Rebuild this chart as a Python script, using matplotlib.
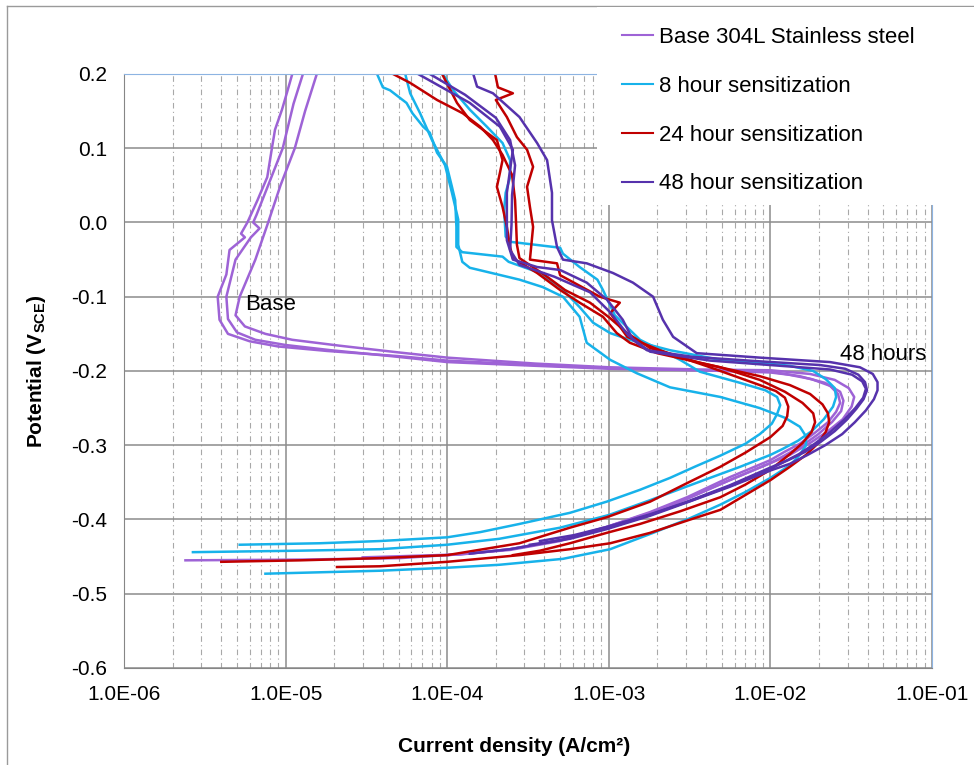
import numpy as np
import matplotlib.pyplot as plt
from matplotlib.ticker import LogLocator, FuncFormatter, NullFormatter
from matplotlib.lines import Line2D
from matplotlib.patches import Rectangle

plt.rcParams['font.family'] = ['Liberation Sans', 'DejaVu Sans']
plt.rcParams['mathtext.fontset'] = 'custom'
plt.rcParams['mathtext.rm'] = 'Liberation Sans'
plt.rcParams['mathtext.bf'] = 'Liberation Sans:bold'

# Polarization scans as (potential V_SCE, current density A/cm2), passive end first
base_1 = [(0.200, 1.10e-5), (0.175, 1.02e-5), (0.152, 9.5e-6), (0.125, 8.6e-6), (0.098, 8.2e-6),
          (0.061, 7.7e-6), (0.030, 6.7e-6), (0.000, 5.8e-6), (-0.015, 5.3e-6), (-0.020, 5.6e-6),
          (-0.037, 4.5e-6), (-0.070, 4.3e-6), (-0.100, 3.8e-6), (-0.131, 3.9e-6), (-0.150, 4.4e-6),
          (-0.160, 6.0e-6), (-0.167, 9.0e-6), (-0.173, 1.8e-5), (-0.180, 5.0e-5), (-0.186, 1.0e-4),
          (-0.192, 3.5e-4), (-0.196, 1.0e-3), (-0.199, 3.66e-3), (-0.202, 1.0e-2), (-0.205, 1.3e-2),
          (-0.211, 1.8e-2), (-0.220, 2.34e-2), (-0.231, 2.62e-2), (-0.243, 2.7e-2), (-0.255, 2.55e-2),
          (-0.269, 2.27e-2), (-0.283, 1.89e-2), (-0.298, 1.52e-2), (-0.309, 1.22e-2), (-0.320, 1.0e-2),
          (-0.343, 5.6e-3), (-0.370, 3.05e-3), (-0.390, 1.8e-3), (-0.410, 9.7e-4), (-0.428, 5.0e-4),
          (-0.440, 2.45e-4), (-0.446, 1.38e-4), (-0.452, 5.1e-5), (-0.454, 1.23e-5), (-0.455, 2.4e-6)]

base_2 = [(0.200, 1.28e-5), (0.160, 1.12e-5), (0.100, 9.6e-6), (0.050, 7.8e-6), (0.010, 6.6e-6),
          (0.000, 6.3e-6), (-0.008, 6.9e-6), (-0.020, 6.1e-6), (-0.050, 4.9e-6), (-0.100, 4.3e-6),
          (-0.130, 4.4e-6), (-0.148, 5.0e-6), (-0.158, 6.5e-6), (-0.165, 1.0e-5), (-0.172, 1.9e-5),
          (-0.180, 4.5e-5), (-0.188, 1.0e-4), (-0.193, 3.5e-4), (-0.197, 1.0e-3), (-0.199, 3.66e-3),
          (-0.201, 1.0e-2), (-0.207, 1.52e-2), (-0.216, 2.18e-2), (-0.228, 2.7e-2), (-0.240, 2.83e-2),
          (-0.254, 2.74e-2), (-0.269, 2.4e-2), (-0.285, 1.98e-2), (-0.301, 1.56e-2), (-0.314, 1.22e-2),
          (-0.324, 1.0e-2), (-0.347, 5.6e-3), (-0.372, 3.05e-3), (-0.392, 1.8e-3), (-0.411, 9.7e-4),
          (-0.429, 5.0e-4), (-0.441, 2.45e-4), (-0.448, 1.0e-4)]

base_3 = [(0.200, 1.56e-5), (0.150, 1.32e-5), (0.100, 1.14e-5), (0.050, 9.3e-6), (0.000, 7.8e-6),
          (-0.050, 6.5e-6), (-0.100, 5.2e-6), (-0.125, 4.9e-6), (-0.140, 5.6e-6), (-0.150, 7.5e-6),
          (-0.158, 1.1e-5), (-0.166, 2.17e-5), (-0.175, 5.0e-5), (-0.182, 1.0e-4), (-0.190, 3.5e-4),
          (-0.195, 1.0e-3), (-0.198, 3.66e-3), (-0.199, 1.0e-2), (-0.204, 1.76e-2), (-0.212, 2.5e-2),
          (-0.223, 3.05e-2), (-0.235, 3.3e-2), (-0.248, 3.18e-2), (-0.265, 2.8e-2), (-0.281, 2.27e-2),
          (-0.297, 1.76e-2), (-0.313, 1.32e-2), (-0.324, 1.0e-2), (-0.347, 5.6e-3), (-0.372, 3.05e-3),
          (-0.391, 1.8e-3), (-0.410, 9.7e-4), (-0.428, 5.0e-4), (-0.440, 2.45e-4), (-0.447, 1.2e-4),
          (-0.451, 3.0e-5)]

h8_1 = [(0.200, 3.68e-5), (0.182, 4.0e-5), (0.178, 4.43e-5), (0.161, 5.6e-5), (0.147, 6.1e-5),
        (0.129, 7.1e-5), (0.121, 7.8e-5), (0.094, 8.65e-5), (0.075, 9.97e-5), (0.048, 1.07e-4),
        (0.030, 1.12e-4), (-0.006, 1.14e-4), (-0.033, 1.14e-4), (-0.040, 1.24e-4), (-0.046, 2.2e-4),
        (-0.053, 2.4e-4), (-0.068, 3.75e-4), (-0.087, 5.0e-4), (-0.114, 6.6e-4), (-0.135, 8.0e-4),
        (-0.149, 1.02e-3), (-0.158, 1.35e-3), (-0.172, 2.39e-3), (-0.185, 4.9e-3), (-0.189, 8.6e-3),
        (-0.193, 1.32e-2), (-0.200, 1.84e-2), (-0.211, 2.2e-2), (-0.223, 2.5e-2), (-0.235, 2.55e-2),
        (-0.248, 2.44e-2), (-0.265, 2.14e-2), (-0.281, 1.8e-2), (-0.294, 1.48e-2), (-0.305, 1.19e-2),
        (-0.313, 1.0e-2), (-0.329, 6.5e-3), (-0.349, 3.66e-3), (-0.374, 1.8e-3), (-0.394, 1.0e-3),
        (-0.411, 5.0e-4), (-0.426, 2.1e-4), (-0.434, 1.0e-4), (-0.440, 3.85e-5), (-0.442, 1.23e-5),
        (-0.444, 2.67e-6)]

h8_2 = [(0.200, 9.4e-5), (0.178, 1.09e-4), (0.152, 1.38e-4), (0.129, 1.76e-4), (0.107, 2.2e-4),
        (0.084, 2.45e-4), (0.061, 2.45e-4), (0.040, 2.3e-4), (0.017, 2.25e-4), (-0.019, 2.3e-4),
        (-0.026, 2.45e-4), (-0.034, 5.0e-4), (-0.042, 5.2e-4), (-0.060, 6.6e-4), (-0.077, 8.5e-4),
        (-0.091, 9.2e-4), (-0.125, 1.09e-3), (-0.158, 1.56e-3), (-0.185, 2.76e-3), (-0.201, 3.66e-3),
        (-0.216, 6.5e-3), (-0.226, 9.3e-3), (-0.235, 1.1e-2), (-0.246, 1.15e-2), (-0.258, 1.1e-2),
        (-0.271, 1.02e-2), (-0.285, 8.6e-3), (-0.298, 7.0e-3), (-0.314, 4.9e-3), (-0.329, 3.4e-3),
        (-0.344, 2.39e-3), (-0.360, 1.56e-3), (-0.376, 9.7e-4), (-0.391, 5.75e-4), (-0.406, 2.8e-4),
        (-0.417, 1.6e-4), (-0.424, 1.0e-4), (-0.429, 3.85e-5), (-0.432, 1.63e-5), (-0.434, 5.2e-6)]

h8_3 = [(0.200, 5.5e-5), (0.174, 5.9e-5), (0.147, 6.8e-5), (0.111, 8.05e-5), (0.077, 9.7e-5),
        (0.040, 1.07e-4), (0.004, 1.17e-4), (-0.030, 1.17e-4), (-0.053, 1.24e-4), (-0.061, 1.38e-4),
        (-0.077, 2.8e-4), (-0.087, 3.9e-4), (-0.100, 5.2e-4), (-0.127, 6.6e-4), (-0.162, 7.3e-4),
        (-0.185, 1.02e-3), (-0.203, 1.49e-3), (-0.222, 2.39e-3), (-0.235, 4.9e-3), (-0.250, 8.6e-3),
        (-0.263, 1.23e-2), (-0.275, 1.52e-2), (-0.288, 1.66e-2), (-0.300, 1.66e-2), (-0.313, 1.52e-2),
        (-0.327, 1.32e-2), (-0.344, 1.0e-2), (-0.363, 7.0e-3), (-0.380, 4.9e-3), (-0.398, 3.2e-3),
        (-0.418, 1.88e-3), (-0.440, 1.02e-3), (-0.453, 5.2e-4), (-0.461, 2.1e-4), (-0.465, 1.0e-4),
        (-0.469, 3.85e-5), (-0.473, 7.5e-6)]

h24_1 = [(0.200, 4.62e-5), (0.188, 5.9e-5), (0.165, 8.65e-5), (0.147, 1.25e-4), (0.129, 1.6e-4),
         (0.111, 1.92e-4), (0.091, 2.2e-4), (0.064, 2.52e-4), (0.030, 2.63e-4), (-0.003, 2.67e-4),
         (-0.030, 2.7e-4), (-0.048, 2.8e-4), (-0.071, 4.03e-4), (-0.091, 5.36e-4), (-0.108, 7.65e-4),
         (-0.129, 1.02e-3), (-0.149, 1.3e-3), (-0.169, 1.8e-3), (-0.189, 3.66e-3), (-0.207, 8.6e-3),
         (-0.219, 1.32e-2), (-0.231, 1.76e-2), (-0.245, 2.1e-2), (-0.257, 2.27e-2), (-0.269, 2.31e-2),
         (-0.282, 2.2e-2), (-0.297, 1.98e-2), (-0.313, 1.66e-2), (-0.329, 1.32e-2), (-0.347, 1.0e-2),
         (-0.367, 7.0e-3), (-0.387, 4.9e-3), (-0.400, 3.2e-3), (-0.418, 1.8e-3), (-0.432, 1.02e-3),
         (-0.440, 5.75e-4), (-0.448, 2.8e-4), (-0.457, 1.0e-4), (-0.463, 3.85e-5), (-0.464, 2.08e-5)]

h24_2 = [(0.200, 9.3e-5), (0.161, 1.15e-4), (0.138, 1.38e-4), (0.121, 1.76e-4), (0.111, 2.03e-4),
         (0.084, 2.2e-4), (0.067, 2.12e-4), (0.048, 2.03e-4), (0.021, 2.2e-4), (-0.006, 2.34e-4),
         (-0.033, 2.45e-4), (-0.048, 2.55e-4), (-0.068, 3.6e-4), (-0.091, 5.0e-4), (-0.108, 6.6e-4),
         (-0.127, 9.2e-4), (-0.149, 1.12e-3), (-0.162, 1.35e-3), (-0.176, 1.99e-3), (-0.195, 4.9e-3),
         (-0.212, 8.6e-3), (-0.228, 1.23e-2), (-0.243, 1.58e-2), (-0.257, 1.84e-2), (-0.269, 1.89e-2),
         (-0.282, 1.8e-2), (-0.297, 1.58e-2), (-0.312, 1.32e-2), (-0.333, 1.0e-2), (-0.353, 7.0e-3),
         (-0.370, 4.9e-3), (-0.389, 2.76e-3), (-0.406, 1.56e-3), (-0.418, 9.7e-4), (-0.432, 5.75e-4),
         (-0.442, 3.75e-4), (-0.448, 2.55e-4)]

h24_3 = [(0.200, 1.98e-4), (0.182, 2.06e-4), (0.174, 2.55e-4), (0.165, 2.0e-4), (0.142, 2.34e-4),
         (0.115, 2.7e-4), (0.098, 3.12e-4), (0.075, 3.4e-4), (0.048, 3.12e-4), (0.021, 3.25e-4),
         (-0.006, 3.4e-4), (-0.050, 3.25e-4), (-0.055, 4.78e-4), (-0.071, 5.0e-4), (-0.100, 8.8e-4),
         (-0.108, 1.17e-3), (-0.122, 1.02e-3), (-0.154, 1.3e-3), (-0.172, 2.07e-3), (-0.195, 4.23e-3),
         (-0.219, 8.6e-3), (-0.227, 1.08e-2), (-0.236, 1.23e-2), (-0.248, 1.29e-2), (-0.261, 1.27e-2),
         (-0.274, 1.19e-2), (-0.289, 1.0e-2), (-0.310, 7.0e-3), (-0.329, 4.9e-3), (-0.351, 3.05e-3),
         (-0.376, 1.8e-3), (-0.397, 9.7e-4), (-0.411, 5.75e-4), (-0.432, 2.8e-4), (-0.448, 1.0e-4),
         (-0.452, 3.85e-5), (-0.455, 1.23e-5), (-0.457, 4.0e-6)]

h48_1 = [(0.200, 6.6e-5), (0.161, 1.38e-4), (0.129, 2.12e-4), (0.098, 2.55e-4), (0.071, 2.45e-4),
         (0.040, 2.34e-4), (0.003, 2.34e-4), (-0.024, 2.34e-4), (-0.050, 2.55e-4), (-0.060, 3.6e-4),
         (-0.064, 5.0e-4), (-0.081, 7.3e-4), (-0.104, 9.75e-4), (-0.131, 1.22e-3), (-0.158, 1.41e-3),
         (-0.172, 1.72e-3), (-0.181, 3.32e-3), (-0.187, 8.6e-3), (-0.192, 2.03e-2), (-0.197, 2.9e-2),
         (-0.205, 3.5e-2), (-0.215, 3.85e-2), (-0.226, 3.96e-2), (-0.238, 3.77e-2), (-0.251, 3.4e-2),
         (-0.266, 2.96e-2), (-0.281, 2.5e-2), (-0.296, 2.03e-2), (-0.309, 1.64e-2), (-0.320, 1.29e-2),
         (-0.330, 1.0e-2), (-0.354, 5.6e-3), (-0.376, 3.05e-3), (-0.394, 1.8e-3), (-0.412, 9.7e-4),
         (-0.428, 5.0e-4), (-0.440, 2.45e-4), (-0.446, 1.38e-4)]

h48_2 = [(0.200, 1.45e-4), (0.183, 1.53e-4), (0.174, 1.92e-4), (0.142, 2.8e-4), (0.107, 3.6e-4),
         (0.084, 4.15e-4), (0.040, 4.45e-4), (0.003, 4.45e-4), (-0.033, 4.78e-4), (-0.050, 5.2e-4),
         (-0.055, 7.3e-4), (-0.068, 1.06e-3), (-0.081, 1.41e-3), (-0.100, 1.88e-3), (-0.131, 2.16e-3),
         (-0.154, 2.5e-3), (-0.176, 3.5e-3), (-0.182, 8.6e-3), (-0.188, 2.34e-2), (-0.195, 3.58e-2),
         (-0.204, 4.3e-2), (-0.215, 4.6e-2), (-0.226, 4.6e-2), (-0.238, 4.37e-2), (-0.253, 3.9e-2),
         (-0.269, 3.33e-2), (-0.285, 2.78e-2), (-0.300, 2.18e-2), (-0.313, 1.7e-2), (-0.325, 1.32e-2),
         (-0.334, 1.0e-2), (-0.356, 5.6e-3), (-0.377, 3.05e-3), (-0.395, 1.8e-3), (-0.413, 9.7e-4),
         (-0.426, 5.75e-4), (-0.434, 3.25e-4)]

h48_3 = [(0.200, 7.8e-5), (0.172, 1.29e-4), (0.141, 2.0e-4), (0.111, 2.45e-4), (0.077, 2.63e-4),
         (0.037, 2.52e-4), (-0.003, 2.5e-4), (-0.037, 2.45e-4), (-0.057, 2.8e-4), (-0.073, 4.6e-4),
         (-0.094, 7.65e-4), (-0.121, 1.02e-3), (-0.152, 1.32e-3), (-0.174, 1.8e-3), (-0.186, 4.23e-3),
         (-0.192, 1.0e-2), (-0.198, 2.34e-2), (-0.205, 3.2e-2), (-0.214, 3.7e-2), (-0.224, 3.9e-2),
         (-0.236, 3.75e-2), (-0.250, 3.35e-2), (-0.266, 2.85e-2), (-0.282, 2.35e-2), (-0.298, 1.88e-2),
         (-0.312, 1.5e-2), (-0.323, 1.2e-2), (-0.332, 1.0e-2), (-0.355, 5.6e-3), (-0.375, 3.2e-3),
         (-0.393, 1.8e-3), (-0.410, 9.7e-4), (-0.421, 6.1e-4), (-0.429, 3.75e-4)]

series_labels = ['Base 304L Stainless steel', '8 hour sensitization',
                 '24 hour sensitization', '48 hour sensitization']
series_colors = ['#9E63D6', '#17B2EA', '#C00000', '#5632AC']
series_scans = [[base_1, base_2, base_3],
                [h8_1, h8_2, h8_3],
                [h24_1, h24_2, h24_3],
                [h48_1, h48_2, h48_3]]

fig = plt.figure(figsize=(9.74, 7.65), dpi=100)
ax = fig.add_axes([0.1273, 0.1268, 0.8296, 0.7765])

handles = []
for label, color, scans in zip(series_labels, series_colors, series_scans):
    for scan in scans:
        pot, cur = zip(*scan)
        ax.plot(cur, pot, color=color, lw=1.8, solid_joinstyle='round')
    handles.append(Line2D([], [], color=color, lw=1.5))

ax.set_xscale('log')
ax.set_xlim(1e-6, 1e-1)
ax.set_ylim(-0.6, 0.2)
ax.xaxis.set_major_locator(LogLocator(base=10, numticks=10))
ax.xaxis.set_minor_locator(LogLocator(base=10, subs=np.arange(2, 10), numticks=100))
ax.xaxis.set_minor_formatter(NullFormatter())
ax.xaxis.set_major_formatter(FuncFormatter(lambda v, p: f'{v:.1E}'))
ax.set_yticks(np.arange(-0.6, 0.21, 0.1))
ax.yaxis.set_major_formatter(FuncFormatter(lambda v, p: f'{round(v, 1) + 0.0:.1f}'))

ax.set_axisbelow(True)
ax.grid(which='major', color='#8C8C8C', lw=1.1, ls='-')
ax.grid(which='minor', axis='x', color='#A8A8A8', lw=0.8, ls=(0, (5, 3, 1, 3)))
for side in ('top', 'right'):
    ax.spines[side].set_color('#8DB4E2')
for side in ('left', 'bottom'):
    ax.spines[side].set_color('#868686')
ax.tick_params(which='both', length=0, labelsize=15, pad=12)

ax.set_xlabel('Current density (A/cm²)', fontsize=15, fontweight='bold')
ax.xaxis.set_label_coords(0.483, -0.116)
ax.set_ylabel(r'Potential (V$_\mathbf{SCE}$)', fontsize=15, fontweight='bold', labelpad=17)

ax.text(8.1e-6, -0.111, 'Base', fontsize=16, ha='center', va='center')
ax.text(4.98e-2, -0.178, '48 hours', fontsize=16, ha='center', va='center')

# chart frame and the white legend panel that sits over the plot corner
fig.add_artist(Line2D([6.5 / 974, 6.5 / 974], [0, 1 - 5.5 / 765], transform=fig.transFigure,
                      color='#9A9A9A', lw=1))
fig.add_artist(Line2D([6.5 / 974, 1], [1 - 5.5 / 765, 1 - 5.5 / 765], transform=fig.transFigure,
                      color='#9A9A9A', lw=1))
fig.add_artist(Rectangle((597 / 974, 1 - 205 / 765), 1, (205 - 7) / 765, transform=fig.transFigure,
                         facecolor='white', edgecolor='none', zorder=2))
fig.legend(handles, series_labels, loc='upper left', bbox_to_anchor=(622 / 974, 1 - 27 / 765),
           frameon=False, fontsize=16, borderpad=0, borderaxespad=0, handlelength=1.4,
           handletextpad=0.25, labelspacing=1.25).set_zorder(3)

fig.savefig('out.png', dpi=100)
